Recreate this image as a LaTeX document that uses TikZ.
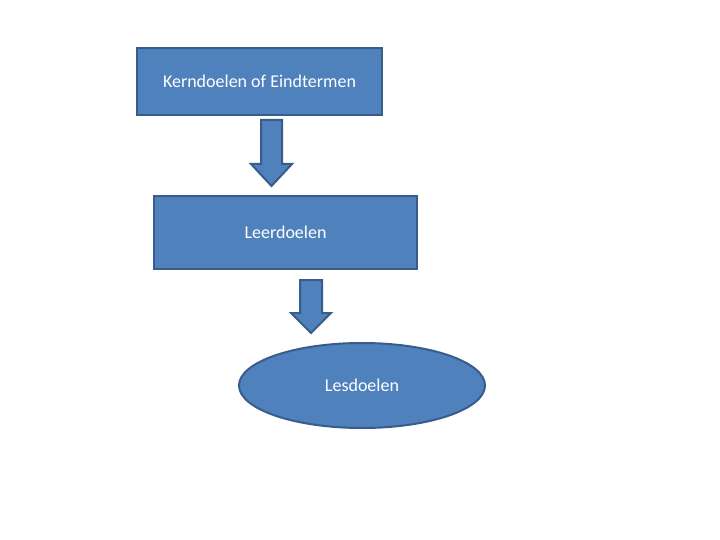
\documentclass[tikz,border=0pt]{standalone}
\usepackage{fontspec}
\setmainfont{Carlito}
\usetikzlibrary{shapes.geometric}
\definecolor{fillblue}{HTML}{4F81BD}
\definecolor{lineblue}{HTML}{385D8A}
\begin{document}
\begin{tikzpicture}[x=1pt,y=-1pt,
  shp/.style={fill=fillblue,draw=lineblue,line width=2pt},
  lbl/.style={shp,text=white,inner sep=0pt,font=\fontsize{18}{21}\selectfont},
  boxnode/.style={lbl,rectangle},
  ovalnode/.style={lbl,ellipse}]
\useasboundingbox (0,0) rectangle (720,540);
\fill[white] (0,0) rectangle (720,540);
\node[boxnode,minimum width=245pt,minimum height=67pt] (kern) at (259.5,81.5) {Kerndoelen of Eindtermen};
\node[boxnode,minimum width=263pt,minimum height=73pt] (leer) at (285.5,232.5) {Leerdoelen};
\node[ovalnode,minimum width=246pt,minimum height=85pt] (les) at (362,385.5) {Lesdoelen};
\draw[shp,line join=miter] (261,120) -- (282,120) -- (282,164) -- (292,164) -- (271.5,186) -- (251,164) -- (261,164) -- cycle;
\draw[shp,line join=miter] (300,280) -- (322,280) -- (322,313) -- (331,313) -- (311,333) -- (291,313) -- (300,313) -- cycle;
\end{tikzpicture}
\end{document}
